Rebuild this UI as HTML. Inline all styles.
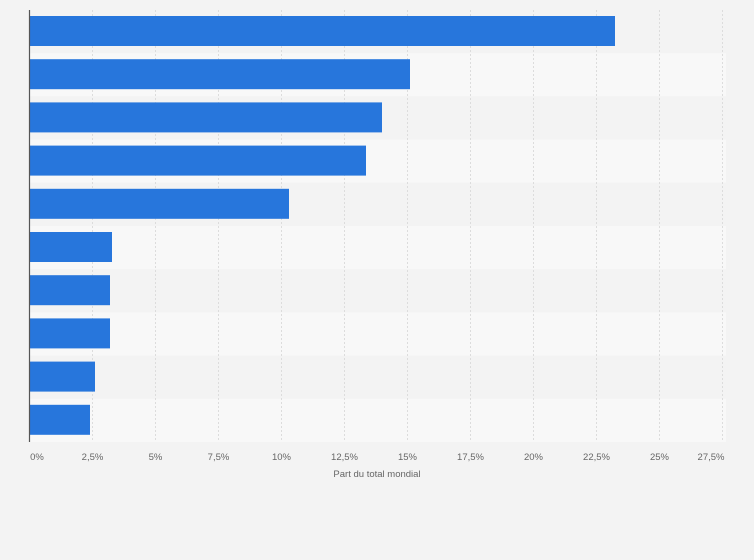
<!DOCTYPE html>
<html><head><meta charset="utf-8"><style>
body{margin:0;background:#f3f3f3;}
svg{display:block;font-family:"Liberation Sans",sans-serif;}
</style></head><body>
<svg width="754" height="560" viewBox="0 0 754 560">
<rect width="754" height="560" fill="#f3f3f3"/>
<g>
<rect x="30" y="10" width="696" height="43.2" fill="#f3f3f3"/>
<rect x="30" y="53.2" width="696" height="43.2" fill="#f8f8f8"/>
<rect x="30" y="96.4" width="696" height="43.2" fill="#f3f3f3"/>
<rect x="30" y="139.6" width="696" height="43.2" fill="#f8f8f8"/>
<rect x="30" y="182.8" width="696" height="43.2" fill="#f3f3f3"/>
<rect x="30" y="226" width="696" height="43.2" fill="#f8f8f8"/>
<rect x="30" y="269.2" width="696" height="43.2" fill="#f3f3f3"/>
<rect x="30" y="312.4" width="696" height="43.2" fill="#f8f8f8"/>
<rect x="30" y="355.6" width="696" height="43.2" fill="#f3f3f3"/>
<rect x="30" y="398.8" width="696" height="43.2" fill="#f8f8f8"/>
</g>
<g stroke="#dcdcdc" stroke-width="1" stroke-dasharray="2,2">
<line x1="92.5" y1="10" x2="92.5" y2="442"/>
<line x1="155.5" y1="10" x2="155.5" y2="442"/>
<line x1="218.5" y1="10" x2="218.5" y2="442"/>
<line x1="281.5" y1="10" x2="281.5" y2="442"/>
<line x1="344.5" y1="10" x2="344.5" y2="442"/>
<line x1="407.5" y1="10" x2="407.5" y2="442"/>
<line x1="470.5" y1="10" x2="470.5" y2="442"/>
<line x1="533.5" y1="10" x2="533.5" y2="442"/>
<line x1="596.5" y1="10" x2="596.5" y2="442"/>
<line x1="659.5" y1="10" x2="659.5" y2="442"/>
<line x1="722.5" y1="10" x2="722.5" y2="442"/>
</g>
<g fill="#2776dc">
<rect x="30" y="16" width="585" height="30"/>
<rect x="30" y="59.2" width="380" height="30"/>
<rect x="30" y="102.4" width="352" height="30"/>
<rect x="30" y="145.6" width="336" height="30"/>
<rect x="30" y="188.8" width="259" height="30"/>
<rect x="30" y="232" width="82" height="30"/>
<rect x="30" y="275.2" width="80" height="30"/>
<rect x="30" y="318.4" width="80" height="30"/>
<rect x="30" y="361.6" width="65" height="30"/>
<rect x="30" y="404.8" width="60" height="30"/>
</g>
<line x1="29.5" y1="10" x2="29.5" y2="442" stroke="#555" stroke-width="1.2"/>
<g font-size="9.5" fill="#666" text-anchor="middle">
<text x="37" y="460">0%</text>
<text x="92.5" y="460">2,5%</text>
<text x="155.5" y="460">5%</text>
<text x="218.5" y="460">7,5%</text>
<text x="281.5" y="460">10%</text>
<text x="344.5" y="460">12,5%</text>
<text x="407.5" y="460">15%</text>
<text x="470.5" y="460">17,5%</text>
<text x="533.5" y="460">20%</text>
<text x="596.5" y="460">22,5%</text>
<text x="659.5" y="460">25%</text>
<text x="711" y="460">27,5%</text>
<text x="377" y="477">Part du total mondial</text>
</g>
</svg>
</body></html>
